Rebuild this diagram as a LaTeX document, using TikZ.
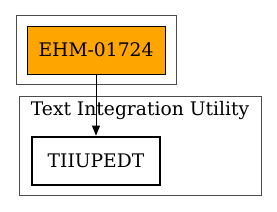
\documentclass[tikz,border=0pt]{standalone}
\usepackage{fontspec}
\setmainfont{DejaVu Serif}
\usetikzlibrary{arrows.meta}
\definecolor{gvorange}{HTML}{FFA500}
\begin{document}
\begin{tikzpicture}[x=1bp,y=-1bp,
  cluster/.style={draw=black!70,line width=0.8bp},
  box/.style={draw=black,minimum width=138bp,minimum height=48bp,inner sep=0pt,font=\fontsize{18.7bp}{20bp}\selectfont},
  ]
\useasboundingbox (0,0) rectangle (277,212);
\draw[cluster] (16,15) rectangle (176,84);
\draw[cluster] (19,96) rectangle (261,195);
\node[box,fill=gvorange,line width=0.8bp] (a) at (96,50) {EHM-01724};
\node[box,minimum width=128bp,line width=1.8bp] (b) at (96,161) {TIIUPEDT};
\node[font=\fontsize{18.7bp}{20bp}\selectfont] (lab) at (140,110) {Text Integration Utility};
\draw[-{Triangle[length=10bp,width=8bp]},line width=0.8bp,shorten >=0.5bp] (a) -- (b);
\end{tikzpicture}
\end{document}
